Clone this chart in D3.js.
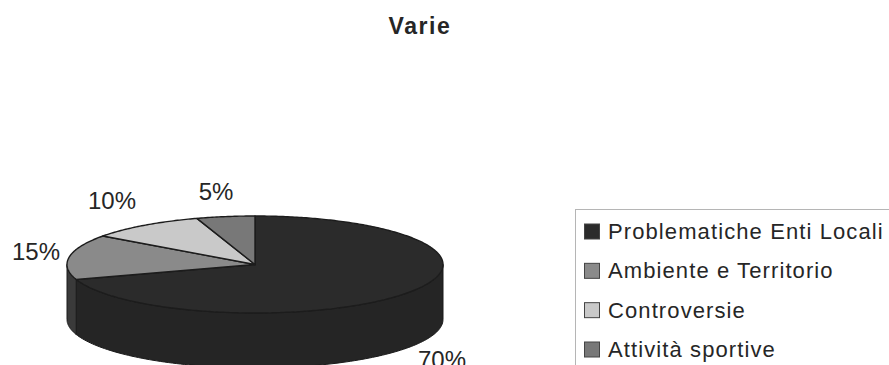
<!DOCTYPE html>
<html>
<head>
<meta charset="utf-8">
<script src="https://cdn.jsdelivr.net/npm/d3@7"></script>
<style>
html,body{margin:0;padding:0;background:#fff;overflow:hidden}
text{font-family:"Liberation Sans",Arial,sans-serif;fill:#262626}
</style>
</head>
<body>
<div id="chart"></div>
<script>
const chartTitle = "Varie";
const categories = ["Problematiche Enti Locali", "Ambiente e Territorio", "Controversie", "Attività sportive"];
const values = [70, 15, 10, 5];
const topColors = ["#2b2b2b", "#8a8a8a", "#c9c9c9", "#787878"];
const wallColors = ["#252525", "#3a3a3a", "#8a8a8a", "#4a4a4a"];

const width = 889, height = 365;
const cx = 255, cy = 264.5, rx = 188, ry = 48.5, depth = 55;
// Centre of each percent label, in slice order
const labelCentres = [[442, 359], [36, 251], [112, 200], [216, 191]];

const svg = d3.select("#chart").append("svg")
  .attr("width", width).attr("height", height)
  .style("display", "block");

// The tilted disc is a unit pie squashed through two linear scales
const px = d3.scaleLinear().domain([-1, 1]).range([cx - rx, cx + rx]);
const py = d3.scaleLinear().domain([-1, 1]).range([cy - ry, cy + ry]);

const slices = d3.pie().sort(null)(values);
const onRim = a => [px(Math.sin(a)), py(-Math.cos(a))];

// Outer wall: every slice portion that faces the viewer (angles between 90° and 270°)
const rimLine = d3.line();
const wallGroup = svg.append("g");
slices.forEach((s, i) => {
  const a0 = Math.max(s.startAngle, Math.PI / 2);
  const a1 = Math.min(s.endAngle, 3 * Math.PI / 2);
  if (a1 <= a0) return;
  const angles = d3.range(0, 121).map(k => a0 + (a1 - a0) * k / 120);
  const upper = angles.map(onRim);
  const lower = upper.map(([x, y]) => [x, y + depth]).reverse();
  wallGroup.append("path")
    .attr("d", rimLine(upper.concat(lower)) + "Z")
    .attr("fill", wallColors[i])
    .attr("stroke", "#1a1a1a")
    .attr("stroke-width", 1);
});

// Top face
const faceGroup = svg.append("g");
slices.forEach((s, i) => {
  const n = Math.max(12, Math.ceil((s.endAngle - s.startAngle) * 80));
  const pts = d3.range(0, n + 1).map(k => onRim(s.startAngle + (s.endAngle - s.startAngle) * k / n));
  pts.push([px(0), py(0)]);
  faceGroup.append("path")
    .attr("d", rimLine(pts) + "Z")
    .attr("fill", topColors[i])
    .attr("stroke", "#1c1c1c")
    .attr("stroke-width", 1.4)
    .attr("stroke-linejoin", "round");
});

// Percent labels
svg.append("g").selectAll("text").data(values).join("text")
  .attr("x", (d, i) => labelCentres[i][0])
  .attr("y", (d, i) => labelCentres[i][1])
  .attr("dy", "0.36em")
  .attr("text-anchor", "middle")
  .attr("font-size", 24)
  .text(d => d + "%");

// Title
svg.append("text")
  .attr("x", 420).attr("y", 34)
  .attr("text-anchor", "middle")
  .attr("font-size", 23)
  .attr("font-weight", "bold")
  .attr("letter-spacing", 1.6)
  .text(chartTitle);

// Legend: the frame runs on past the right and bottom page edges
const legendGroup = svg.append("g");
legendGroup.append("rect")
  .attr("x", 575.5).attr("y", 209.5)
  .attr("width", 340).attr("height", 190)
  .attr("fill", "#fff").attr("stroke", "#b5b5b5").attr("stroke-width", 1);

const rowY = d3.scalePoint().domain(categories).range([231, 349]);
categories.forEach((c, i) => {
  legendGroup.append("rect")
    .attr("x", 584.5).attr("y", rowY(c) - 7)
    .attr("width", 15).attr("height", 15)
    .attr("fill", topColors[i]).attr("stroke", "#444").attr("stroke-width", 1);
  legendGroup.append("text")
    .attr("x", 608).attr("y", rowY(c))
    .attr("dy", "0.36em")
    .attr("font-size", 22)
    .attr("letter-spacing", 1.1)
    .text(c);
});
</script>
</body>
</html>
